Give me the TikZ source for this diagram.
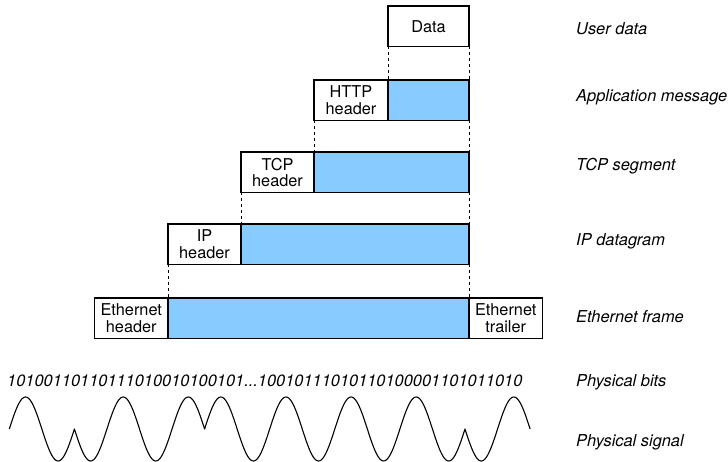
\documentclass[tikz,border=0pt]{standalone}
\usepackage{fontspec}
\setmainfont{TeX Gyre Heros}
\definecolor{payfill}{RGB}{136,204,255}
\newcommand\mybxfont{\fontsize{16.3}{16.4}\selectfont}
\newcommand\mylbfont{\fontsize{16.4}{16.4}\selectfont\itshape}
\begin{document}
\begin{tikzpicture}[x=1pt,y=-1pt,
  box/.style={draw, line width=1.1pt, inner sep=0pt, outer sep=0pt, minimum height=40.5pt, anchor=north west, align=center, font=\mybxfont},
  payload/.style={box, fill=payfill},
  link/.style={line width=0.9pt, dash pattern=on 3pt off 3pt},
  lbl/.style={anchor=base west, inner sep=0pt, font=\mylbfont},
  signal/.style={line width=1.1pt, line join=round}]
\useasboundingbox (0,0) rectangle (728,462);

% boxes
\node[box, minimum width=81pt] (data) at (388,6) {Data};
\node[box, minimum width=74pt] (httph) at (314,80) {HTTP\\header};
\node[payload, minimum width=81pt] (httpp) at (388,80) {};
\node[box, minimum width=73pt] (tcph) at (241,152) {TCP\\header};
\node[payload, minimum width=155pt] (tcpp) at (314,152) {};
\node[box, minimum width=73pt] (iph) at (168,224) {IP\\header};
\node[payload, minimum width=228pt] (ipp) at (241,224) {};
\node[box, minimum width=73.5pt] (ethh) at (94.5,298) {Ethernet\\header};
\node[payload, minimum width=301pt] (ethp) at (168,298) {};
\node[box, minimum width=73.5pt] (etht) at (469,298) {Ethernet\\trailer};

% dashed links
\draw[link] (data.south west) -- (httpp.north west);
\draw[link] (data.south east) -- (httpp.north east);
\draw[link] (httph.south west) -- (tcpp.north west);
\draw[link] (httpp.south east) -- (tcpp.north east);
\draw[link] (tcph.south west) -- (ipp.north west);
\draw[link] (tcpp.south east) -- (ipp.north east);
\draw[link] (iph.south west) -- (ethp.north west);
\draw[link] (ipp.south east) -- (ethp.north east);

% labels
\node[lbl] (luser) at (576,35) {User data};
\node[lbl] (lapp) at (576,101.5) {Application message};
\node[lbl] (ltcp) at (576,170.5) {TCP segment};
\node[lbl] (lip) at (576,245.5) {IP datagram};
\node[lbl] (leth) at (576,323) {Ethernet frame};
\node[lbl] (lbits) at (576,386) {Physical bits};
\node[lbl] (lsig) at (576,446.5) {Physical signal};

% bits
\node[lbl] (bits) at (7,386) {10100110110111010010100101...10010111010110100001101011010};

% signal
\draw[signal]
  plot[domain=0:360, samples=61] ({9.3+\x/360*65.1}, {429-32*sin(\x)})
  -- plot[domain=0:720, samples=121] ({74.4+\x/360*65.1}, {429+32*sin(\x)})
  -- plot[domain=0:1440, samples=241] ({204.6+\x/360*65.1}, {429-32*sin(\x)})
  -- plot[domain=0:360, samples=61] ({465+\x/360*65.1}, {429+32*sin(\x)});
\end{tikzpicture}
\end{document}
